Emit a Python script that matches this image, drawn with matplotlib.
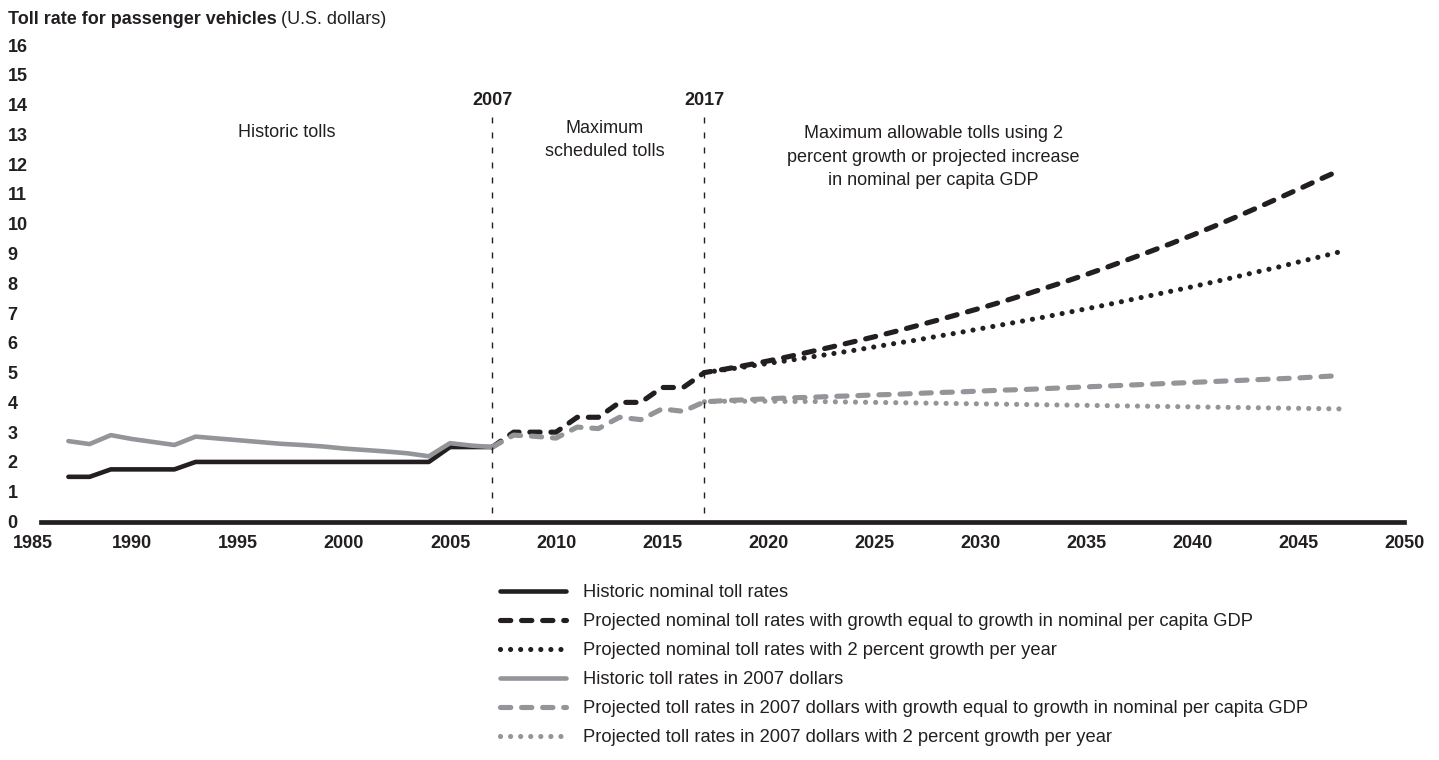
import matplotlib
matplotlib.use('Agg')
import matplotlib.pyplot as plt
from matplotlib.transforms import ScaledTranslation

plt.rcParams['font.family'] = ['Liberation Sans', 'DejaVu Sans']

BLACK = '#231f20'
GRAY = '#939598'

# historic tolls
years_hist = list(range(1987, 2008))
nominal_hist = [1.5, 1.5, 1.75, 1.75, 1.75, 1.75, 2.0, 2.0, 2.0, 2.0, 2.0,
                2.0, 2.0, 2.0, 2.0, 2.0, 2.0, 2.0, 2.5, 2.5, 2.5]
real_hist = [2.70, 2.60, 2.90, 2.77, 2.67, 2.57, 2.85, 2.79, 2.73, 2.67, 2.61,
             2.57, 2.52, 2.45, 2.40, 2.35, 2.29, 2.19, 2.63, 2.55, 2.50]

# scheduled (2007-2017) + GDP growth projection (2018-2047)
years_gdp = list(range(2007, 2048))
nominal_gdp = [2.5, 3.0, 3.0, 3.0, 3.5, 3.5, 4.0, 4.0, 4.5, 4.5, 5.0,
               5.12, 5.25, 5.39, 5.54, 5.70, 5.86, 6.03, 6.20, 6.38, 6.57,
               6.76, 6.96, 7.16, 7.37, 7.59, 7.82, 8.05, 8.29, 8.54, 8.80,
               9.06, 9.33, 9.61, 9.90, 10.20, 10.51, 10.83, 11.15, 11.48, 11.80]
real_gdp = [2.5, 2.90, 2.86, 2.80, 3.17, 3.12, 3.50, 3.42, 3.78, 3.70, 4.02,
            4.06, 4.09, 4.12, 4.15, 4.17, 4.20, 4.22, 4.25, 4.27, 4.30,
            4.33, 4.35, 4.38, 4.41, 4.43, 4.46, 4.49, 4.52, 4.55, 4.58,
            4.61, 4.64, 4.67, 4.70, 4.73, 4.76, 4.79, 4.82, 4.86, 4.90]

# 2 percent growth projection
years_2pct = list(range(2017, 2048))
nominal_2pct = [5.0, 5.10, 5.20, 5.31, 5.41, 5.52, 5.63, 5.74, 5.86, 5.98, 6.09,
                6.22, 6.34, 6.47, 6.60, 6.73, 6.86, 7.00, 7.14, 7.28, 7.43,
                7.58, 7.73, 7.88, 8.04, 8.20, 8.37, 8.53, 8.71, 8.88, 9.06]
real_2pct = [4.02, 4.04, 4.04, 4.04, 4.03, 4.03, 4.02, 4.01, 4.00, 3.99, 3.98,
             3.97, 3.96, 3.95, 3.94, 3.93, 3.92, 3.91, 3.90, 3.89, 3.88,
             3.87, 3.86, 3.85, 3.84, 3.83, 3.82, 3.81, 3.80, 3.79, 3.78]

labels = ['Historic nominal toll rates',
          'Projected nominal toll rates with growth equal to growth in nominal per capita GDP',
          'Projected nominal toll rates with 2 percent growth per year',
          'Historic toll rates in 2007 dollars',
          'Projected toll rates in 2007 dollars with growth equal to growth in nominal per capita GDP',
          'Projected toll rates in 2007 dollars with 2 percent growth per year']

W, H = 1439, 760
fig = plt.figure(figsize=(W / 100, H / 100), dpi=100)
ax = fig.add_axes([26 / W, 1 - 521.5 / H, (1404 - 26) / W, (521.5 - 45) / H])

lw_solid = 3.3
lw = 3.7
dash = (2.0, 2.1)
dot = (0.01, 1.95)

l1, = ax.plot(years_hist, nominal_hist, color=BLACK, lw=lw_solid, solid_capstyle='round')
l2, = ax.plot(years_gdp, nominal_gdp, color=BLACK, lw=lw, dashes=dash, dash_capstyle='round')
l3, = ax.plot(years_2pct, nominal_2pct, color=BLACK, lw=lw, dashes=dot, dash_capstyle='round')
l4, = ax.plot(years_hist, real_hist, color=GRAY, lw=lw_solid, solid_capstyle='round')
l5, = ax.plot(years_gdp, real_gdp, color=GRAY, lw=lw, dashes=dash, dash_capstyle='round')
l6, = ax.plot(years_2pct, real_2pct, color=GRAY, lw=lw, dashes=dot, dash_capstyle='round')

# period separators
for yr in [2007, 2017]:
    ax.plot([yr, yr], [13.57, 0], color=BLACK, lw=1.0, linestyle=(0, (4.3, 6.5)))
    ax.text(yr, 14.15, str(yr), ha='center', va='center', fontsize=13, fontweight='bold', color=BLACK)

ax.text(1997.3, 13.05, 'Historic tolls', ha='center', va='center', fontsize=13, color=BLACK)
ax.text(2012.3, 12.82, 'Maximum\nscheduled tolls', ha='center', va='center',
        fontsize=13, color=BLACK, linespacing=1.45)
ax.text(2027.8, 12.23, 'Maximum allowable tolls using 2\npercent growth or projected increase\nin nominal per capita GDP',
        ha='center', va='center', fontsize=13, color=BLACK, linespacing=1.5)

ax.set_xlim(1985, 2050)
ax.set_ylim(0, 16)
ax.set_xticks(range(1985, 2051, 5))
ax.set_yticks(range(0, 17))
ax.tick_params(axis='both', length=0, labelsize=13, labelcolor=BLACK)
ax.tick_params(axis='x', pad=9.5)
ax.tick_params(axis='y', pad=13.3)
for t in ax.get_xticklabels() + ax.get_yticklabels():
    t.set_fontweight('bold')
for t in ax.get_yticklabels():
    t.set_horizontalalignment('left')
first = ax.get_xticklabels()[0]
first.set_transform(first.get_transform() + ScaledTranslation(0.07, 0, fig.dpi_scale_trans))

for s in ['top', 'right', 'left']:
    ax.spines[s].set_visible(False)
ax.spines['bottom'].set_linewidth(3.4)
ax.spines['bottom'].set_color(BLACK)
ax.spines['bottom'].set_bounds(1985.7, 2050)
ax.spines['bottom'].set_zorder(5)

fig.text(8 / W, 1 - 20 / H, 'Toll rate for passenger vehicles', fontsize=13,
         fontweight='bold', va='center', ha='left', color=BLACK)
fig.text(8 / W + 0.1, 1 - 20 / H, '(U.S. dollars)', fontsize=13, va='center', ha='left', color=BLACK)

fig.canvas.draw()
bb = fig.texts[0].get_window_extent()
fig.texts[1].set_x((bb.x1 + 4) / W)

fig.legend([l1, l2, l3, l4, l5, l6], labels, loc='upper left',
           bbox_to_anchor=(500 / W, 1 - 584 / H), frameon=False, fontsize=13.2,
           borderpad=0, borderaxespad=0, handlelength=3.6, handletextpad=0.95,
           labelspacing=0.66, labelcolor=BLACK)

fig.savefig('out.png', dpi=100)
